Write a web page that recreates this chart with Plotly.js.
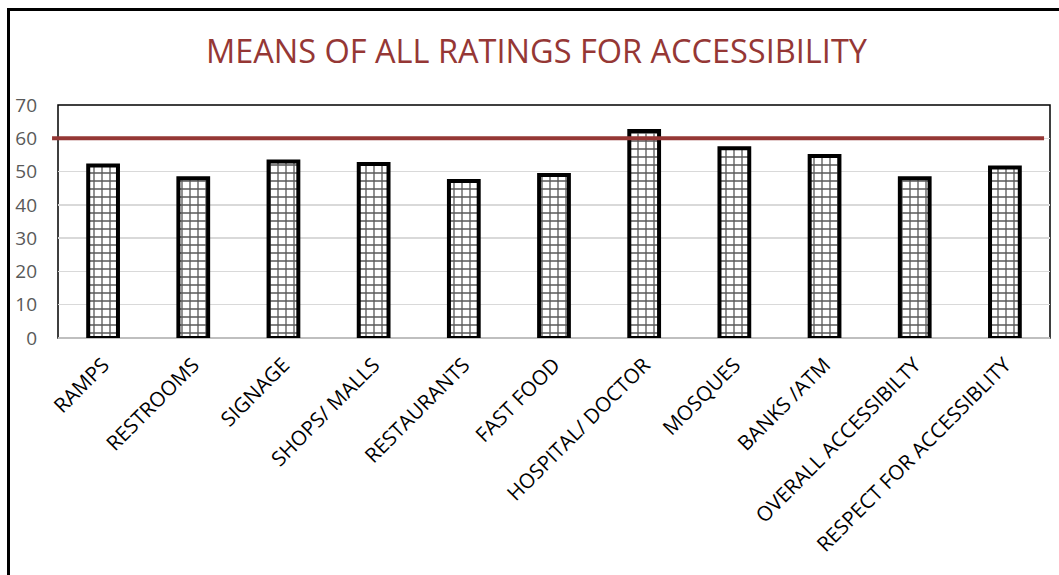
<!DOCTYPE html>
<html>
<head>
<meta charset="utf-8">
<script src="https://cdn.plot.ly/plotly-3.0.1.min.js"></script>
<style>
  html, body { margin: 0; padding: 0; background: #fff; overflow: hidden; }
  #chart { position: absolute; left: 0; top: 0; width: 1059px; height: 575px; }
  #frame { position: absolute; left: 7px; top: 8px; width: 1100px; height: 620px; border: 3px solid #000; pointer-events: none; }
</style>
</head>
<body>
<div id="chart"></div>
<div id="frame"></div>
<script>
const categories = ["RAMPS", "RESTROOMS", "SIGNAGE", "SHOPS/ MALLS", "RESTAURANTS", "FAST FOOD",
  "HOSPITAL/ DOCTOR", "MOSQUES", "BANKS /ATM", "OVERALL ACCESSIBILTY", "RESPECT FOR ACCESSIBLITY"];
const meanRatings = [51.8, 48.0, 53.0, 52.3, 47.2, 49.0, 62.2, 57.0, 54.7, 48.0, 51.2];
const threshold = 60;
const yTicks = [0, 10, 20, 30, 40, 50, 60, 70];
const titleText = "MEANS OF ALL RATINGS FOR ACCESSIBILITY";

const trace = {
  type: "bar",
  x: categories,
  y: meanRatings,
  width: 0.33,
  marker: {
    color: "#ffffff",
    line: { color: "#000000", width: 4 },
    pattern: { shape: "+", fgcolor: "#595959", bgcolor: "#ffffff", size: 8, solidity: 0.3 }
  },
  hoverinfo: "x+y"
};

const layout = {
  width: 1059, height: 575,
  margin: { l: 58, r: 9, t: 105, b: 237 },
  paper_bgcolor: "rgba(0,0,0,0)",
  plot_bgcolor: "#ffffff",
  showlegend: false,
  title: {
    text: titleText,
    font: { family: "Open Sans", size: 32.5, color: "#953735" },
    x: 0.5066, xref: "container", xanchor: "center",
    y: 0.91, yref: "container", yanchor: "middle"
  },
  xaxis: {
    type: "category",
    tickangle: -45,
    tickfont: { family: "Open Sans", size: 20.5, color: "#000000" },
    showgrid: false,
    showline: false,
    zeroline: false,
    ticks: "",
    ticklabelstandoff: 10
  },
  yaxis: {
    range: [0, 70],
    tickvals: yTicks,
    tickfont: { family: "Open Sans", size: 19, color: "#595959" },
    gridcolor: "#d9d9d9",
    gridwidth: 1.5,
    zeroline: true,
    zerolinecolor: "#bfbfbf",
    zerolinewidth: 1.5,
    showline: false,
    ticks: "",
    ticklabelstandoff: 20
  },
  shapes: [
    { type: "rect", xref: "paper", yref: "paper", x0: 0, x1: 1, y0: 0, y1: 1,
      line: { color: "#000000", width: 1.5 }, layer: "below" },
    { type: "line", xref: "paper", yref: "y", x0: -0.006, x1: 0.994, y0: threshold, y1: threshold,
      line: { color: "#953735", width: 4 }, layer: "above" }
  ],
  bargap: 0.67
};

Plotly.newPlot("chart", [trace], layout, { displayModeBar: false, staticPlot: true });
</script>
</body>
</html>
